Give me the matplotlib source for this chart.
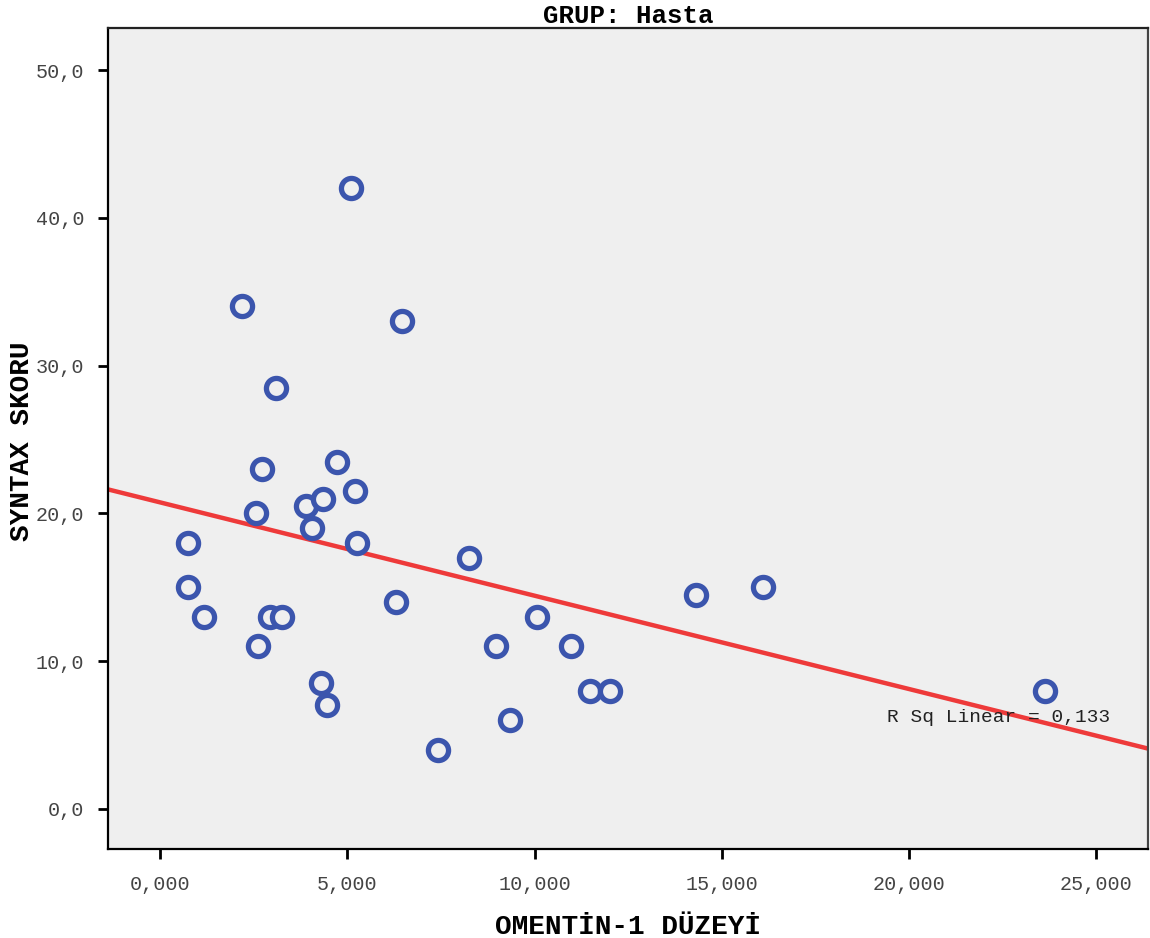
import matplotlib.pyplot as plt
import numpy as np
from matplotlib.ticker import FuncFormatter

# veriler
omentin = [0.75, 0.75, 1.17, 2.19, 2.56, 2.72, 2.62, 3.10, 2.94, 3.26,
           3.90, 4.06, 4.35, 4.30, 4.46, 4.73, 5.10, 5.21, 5.26, 6.30,
           6.46, 7.42, 8.25, 8.97, 9.35, 10.07, 10.97, 11.48, 12.02, 14.31,
           16.10, 23.63]
syntax = [18, 15, 13, 34, 20, 23, 11, 28.5, 13, 13,
          20.5, 19, 21, 8.5, 7, 23.5, 42, 21.5, 18, 14,
          33, 4, 17, 11, 6, 13, 11, 8, 8, 14.5,
          15, 8]
x_ticks = [0, 5, 10, 15, 20, 25]
y_ticks = [0, 10, 20, 30, 40, 50]
r2_text = 'R Sq Linear = 0,133'

mono = 'Liberation Mono'
plt.rcParams['font.family'] = mono

fig = plt.figure(figsize=(11.5, 9.38), dpi=100)
ax = fig.add_axes([0.0939, 0.0949, 0.9044, 0.8752])
ax.set_facecolor('#efefef')

ax.set_xlim(-1.389, 26.38)
ax.set_ylim(-2.71, 52.84)

# regresyon çizgisi
x = np.array(omentin)
y = np.array(syntax)
b, a = np.polyfit(x, y, 1)
xx = np.array(ax.get_xlim())
ax.plot(xx, a + b * xx, color='#ee3a3a', lw=3.2, zorder=2, solid_capstyle='butt')

ax.scatter(x, y, s=210, facecolor='#efefef', edgecolor='#3b55ad', linewidth=3.8, zorder=3)

ax.text(19.41, 6.16, r2_text, fontsize=14, color='#222222', va='center', ha='left', zorder=4)

ax.set_xticks(x_ticks)
ax.set_yticks(y_ticks)
ax.xaxis.set_major_formatter(FuncFormatter(lambda v, p: f'{v:.3f}'.replace('.', ',')))
ax.yaxis.set_major_formatter(FuncFormatter(lambda v, p: f'{v:.1f}'.replace('.', ',')))
ax.tick_params(length=7, width=2, labelsize=14.5, labelcolor='#444444', pad=10, direction='out')
ax.tick_params(axis='x', pad=12)

for s in ax.spines.values():
    s.set_linewidth(1.6)
ax.spines['top'].set_color('#222222')
ax.spines['right'].set_color('#444444')

ax.set_title('GRUP: Hasta', fontsize=18.5, fontweight='bold', pad=3)
ax.set_xlabel('OMENTİN-1 DÜZEYİ', fontsize=20, fontweight='bold', labelpad=14)
fig.text(22 / 1150, 0.5 + (938 / 2 - 441) / 938, 'SYNTAX SKORU', fontsize=20, fontweight='bold',
         rotation=90, ha='center', va='center')

fig.savefig('out.png', dpi=100)
